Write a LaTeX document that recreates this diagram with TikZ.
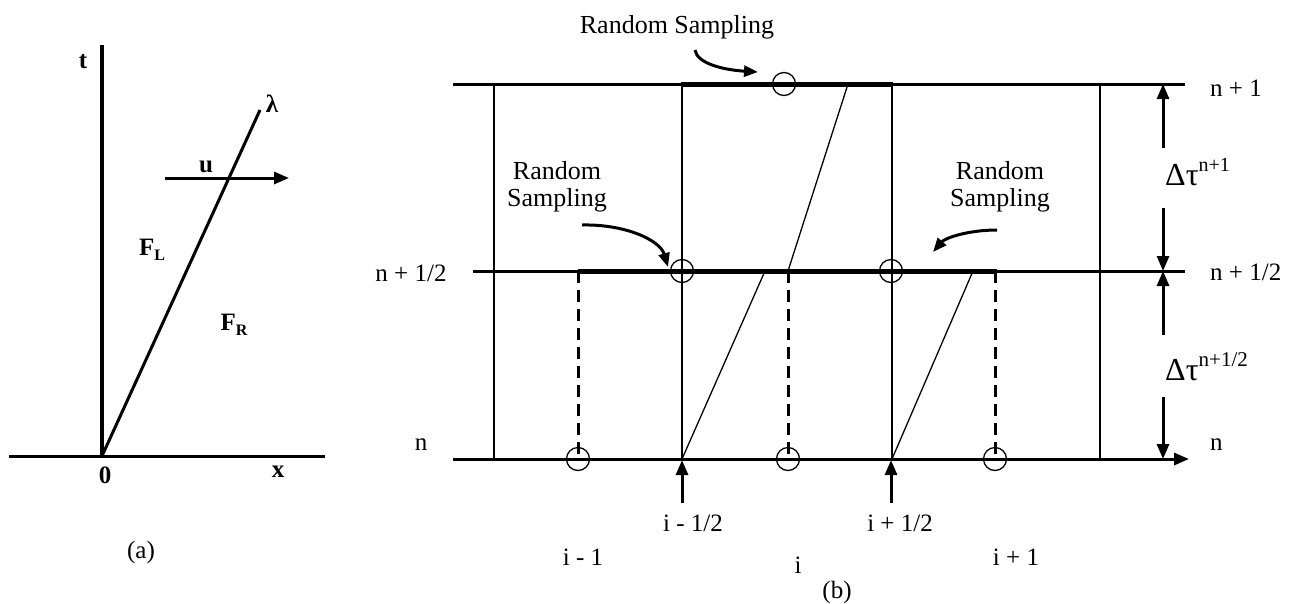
\documentclass[tikz,border=0pt]{standalone}
\usepackage{fontspec}
\setmainfont{Liberation Serif}
\usetikzlibrary{arrows.meta}
\begin{document}
\begin{tikzpicture}[x=1pt,y=-1pt,
  lbl/.style={inner sep=0pt, font=\fontsize{25}{27}\selectfont},
  rs/.style={inner sep=0pt, align=center, font=\fontsize{26}{27}\selectfont},
  bl/.style={inner sep=0pt, font=\fontsize{25}{27}\selectfont\bfseries},
  dtau/.style={inner sep=0pt, anchor=base west, font=\fontsize{32}{34}\selectfont},
  axisthick/.style={line width=4.5pt},
  axisline/.style={line width=3pt},
  gridline/.style={line width=3pt},
  thickseg/.style={line width=5pt},
  thinline/.style={line width=1.3pt},
  slant/.style={line width=1.3pt},
  dashline/.style={line width=3pt, dash pattern=on 12pt off 7pt},
  ring/.style={draw, circle, line width=1.3pt, minimum size=23pt, inner sep=0pt},
  tri/.style={-{Triangle[length=15pt,width=12pt]}},
  curv/.style={line width=3pt, -{Triangle[length=14pt,width=11pt]}}
]
\useasboundingbox (0,0) rectangle (1292,603);

% ---------------- panel (a) ----------------
\coordinate (O) at (102,456);
\coordinate (T) at (102,45);
\coordinate (XL) at (9,456);
\coordinate (XR) at (325,456);
\coordinate (Lam) at (260,110);
\coordinate (U1) at (165,178);
\coordinate (U2) at (289,178);
\draw[axisthick] (O) -- (T);
\draw[axisline] (XL) -- (XR);
\draw[axisline] (O) -- (Lam);
\draw[axisline, tri] (U1) -- (U2);
\node[bl] (lt) at (83,62) {t};
\node[bl] (llam) at (272,104) {λ};
\node[bl] (lu) at (206,167) {u};
\node[bl] (lfl) at (152,250) {F\raisebox{-5pt}{\fontsize{16}{16}\selectfont L}};
\node[bl] (lfr) at (234,325) {F\raisebox{-5pt}{\fontsize{16}{16}\selectfont R}};
\node[bl] (l0) at (105,475) {0};
\node[bl] (lx) at (278,472) {x};
\node[lbl] (la) at (141,552) {(a)};

% ---------------- panel (b) ----------------
\coordinate (TL) at (453,84);   \coordinate (TR) at (1185,84);
\coordinate (ML) at (473,271);  \coordinate (MR) at (1185,271);
\coordinate (BL) at (453,459);  \coordinate (BR) at (1189,459);
\draw[gridline] (TL) -- (TR);
\draw[gridline] (ML) -- (MR);
\draw[gridline, tri] (BL) -- (BR);
\coordinate (TS1) at (681,84);  \coordinate (TS2) at (893,84);
\coordinate (MS1) at (578,271); \coordinate (MS2) at (997,271);
\draw[thickseg] (TS1) -- (TS2);
\draw[thickseg] (MS1) -- (MS2);
\foreach \x/\n in {494/a,682/b,892/c,1100/d}{
  \coordinate (vt\n) at (\x,84);
  \coordinate (vb\n) at (\x,459);
  \draw[thinline] (vt\n) -- (vb\n);
}
\foreach \x/\n in {578/a,788/b,995/c}{
  \coordinate (dt\n) at (\x,271);
  \coordinate (db\n) at (\x,459);
  \draw[dashline] (dt\n) -- (db\n);
}
\coordinate (s1a) at (765,271);
\coordinate (s2b) at (848,84);
\coordinate (s3a) at (973,271);
\draw[slant] (vbb) -- (s1a);
\draw[slant] (dtb) -- (s2b);
\draw[slant] (vbc) -- (s3a);
\node[ring] (c1) at (784,84) {};
\node[ring] (c2) at (682,271) {};
\node[ring] (c3) at (891,271) {};
\node[ring] (c4) at (578,459) {};
\node[ring] (c5) at (788,459) {};
\node[ring] (c6) at (995,459) {};

\coordinate (ia1) at (682,503); \coordinate (ib1) at (682,460);
\coordinate (ia2) at (891,503); \coordinate (ib2) at (891,460);
\draw[line width=3pt, tri] (ia1) -- (ib1);
\draw[line width=3pt, tri] (ia2) -- (ib2);

\coordinate (d1a) at (1163,148); \coordinate (d1b) at (1163,84);
\coordinate (d2a) at (1163,208); \coordinate (d2b) at (1163,271);
\coordinate (d3a) at (1163,335); \coordinate (d3b) at (1163,271);
\coordinate (d4a) at (1163,397); \coordinate (d4b) at (1163,459);
\draw[line width=3pt, tri] (d1a) -- (d1b);
\draw[line width=3pt, tri] (d2a) -- (d2b);
\draw[line width=3pt, tri] (d3a) -- (d3b);
\draw[line width=3pt, tri] (d4a) -- (d4b);

\node[rs] (rs1) at (677,27) {Random Sampling};
\node[rs] (rs2) at (557,187) {Random\\Sampling};
\node[rs] (rs3) at (1000,187) {Random\\Sampling};
\coordinate (a1s) at (695,50);  \coordinate (a1e) at (758,72);
\coordinate (a2s) at (582,225); \coordinate (a2e) at (668,267);
\coordinate (a3s) at (997,230); \coordinate (a3e) at (933,252);
\draw[curv] (a1s) .. controls (697,64) and (725,70) .. (a1e);
\draw[curv] (a2s) .. controls (625,224) and (660,240) .. (a2e);
\draw[curv] (a3s) .. controls (968,230) and (945,238) .. (a3e);

\node[lbl, anchor=west] (ln1) at (1210,88) {n + 1};
\node[lbl, anchor=west] (ln2) at (1210,272) {n + 1/2};
\node[lbl, anchor=west] (ln3) at (1210,445) {n};
\node[lbl] (ll2) at (411,273) {n + 1/2};
\node[lbl] (ll3) at (421,445) {n};
\node[dtau] (dt1) at (1165,185) {Δτ\raisebox{14pt}{\fontsize{20}{20}\selectfont n+1}};
\node[dtau] (dt2) at (1165,380) {Δτ\raisebox{14pt}{\fontsize{21}{21}\selectfont n+1/2}};

\node[lbl] (li1) at (693,523) {i - 1/2};
\node[lbl] (li2) at (900,523) {i + 1/2};
\node[lbl] (lc1) at (583,557) {i - 1};
\node[lbl] (lc2) at (798,565) {i};
\node[lbl] (lc3) at (1016,557) {i + 1};
\node[lbl] (lb) at (837,592) {(b)};
\end{tikzpicture}
\end{document}
